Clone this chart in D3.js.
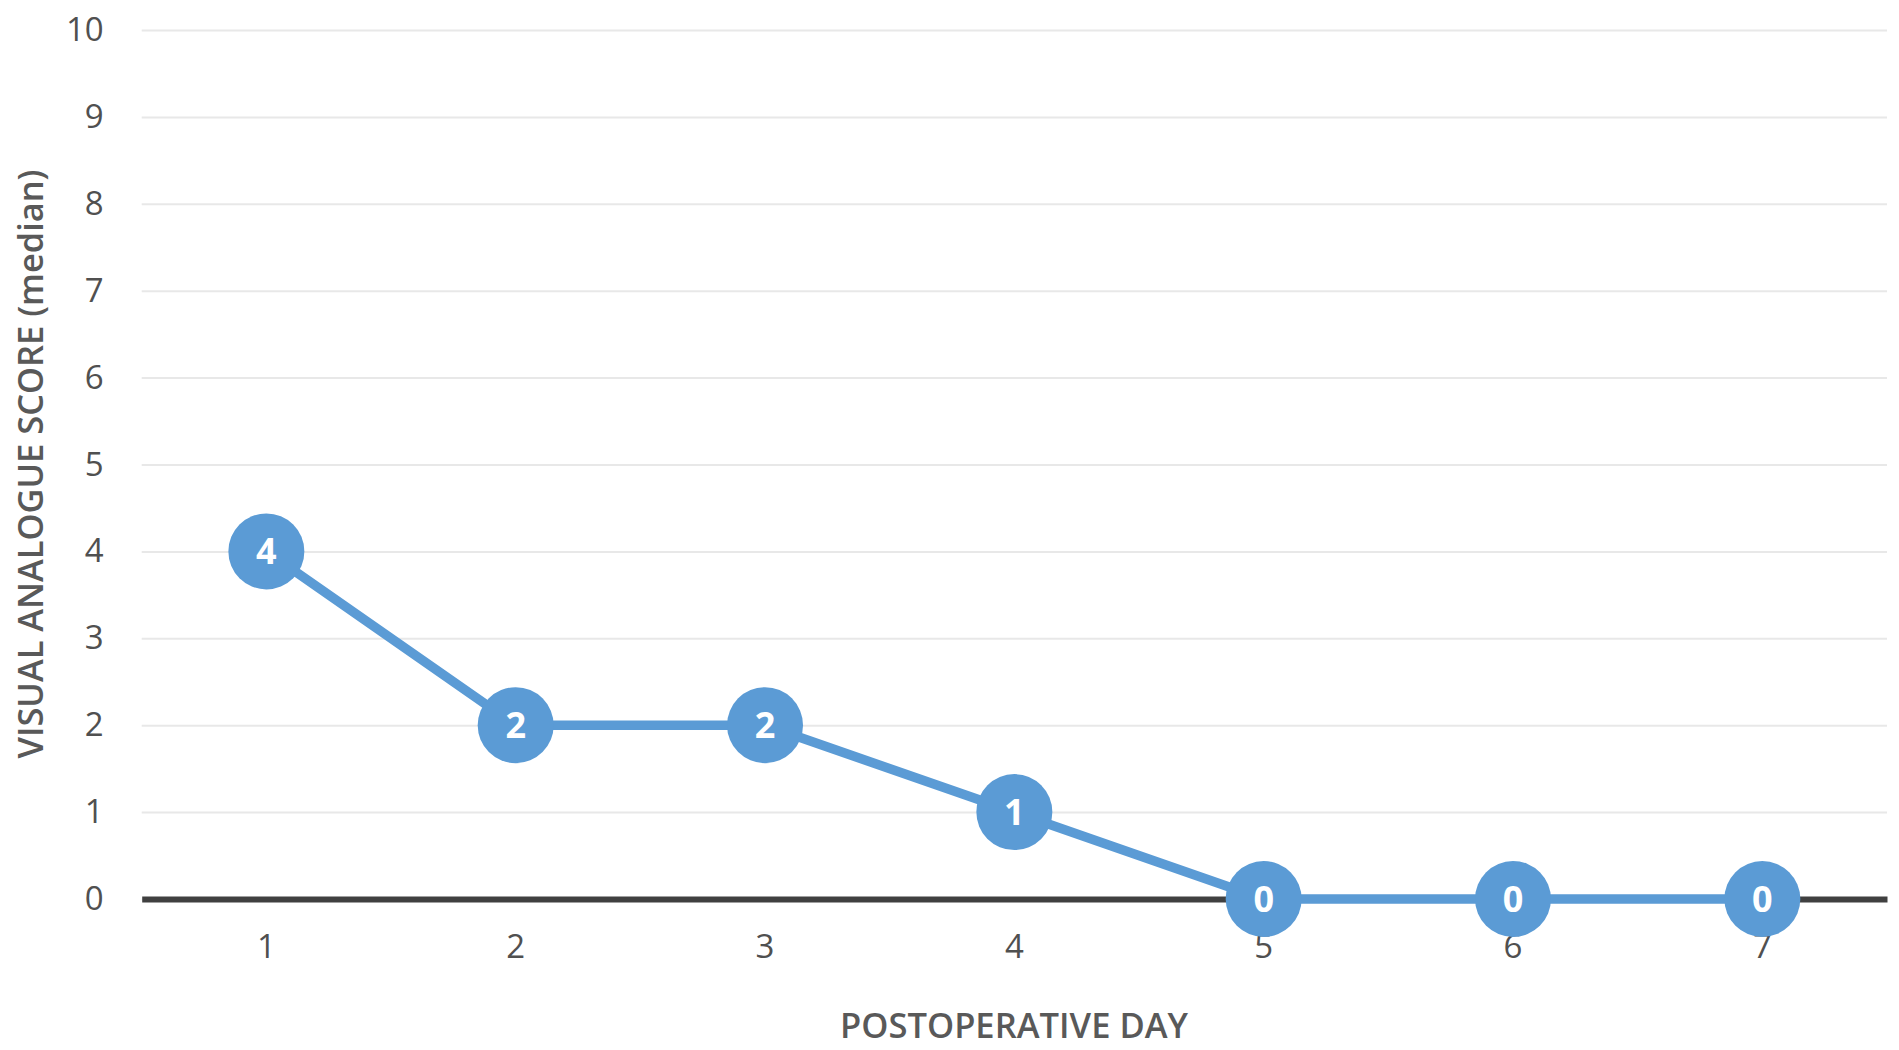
<!DOCTYPE html>
<html><head><meta charset="utf-8">
<script src="https://cdn.jsdelivr.net/npm/d3@7/dist/d3.min.js"></script>
<style>html,body{margin:0;padding:0;background:#fff;}</style>
</head><body>
<svg id="chart" width="1899" height="1050"></svg>
<script>
const days = ["1","2","3","4","5","6","7"];
const vasMedian = [4,2,2,1,0,0,0];
const yTicks = [0,1,2,3,4,5,6,7,8,9,10];
const xTitle = "POSTOPERATIVE DAY";
const yTitle = "VISUAL ANALOGUE SCORE (median)";

const W = 1899, H = 1050;
const m = {left:141.7, right:W-1887, top:30, bottom:H-899};
const svg = d3.select("#chart");
const x = d3.scaleBand().domain(days).range([m.left, W-m.right]);
const y = d3.scaleLinear().domain([0,10]).range([H-m.bottom, m.top]);
const tickFont = "'Open Sans', sans-serif";

// gridlines
svg.append("g").call(d3.axisLeft(y).tickValues(yTicks).tickSize(-(W-m.left-m.right)).tickFormat(""))
  .attr("transform",`translate(${m.left},0)`)
  .call(g=>g.select(".domain").remove())
  .call(g=>g.selectAll("line").attr("stroke","#e8e8e8").attr("stroke-width",2));

// y tick labels
svg.append("g").attr("transform",`translate(${m.left},0)`)
  .call(d3.axisLeft(y).tickValues(yTicks).tickSize(0).tickPadding(38))
  .call(g=>g.select(".domain").remove())
  .call(g=>g.selectAll("text").attr("font-family",tickFont).attr("font-size",33).attr("fill","#505050"));

// x axis
svg.append("g").attr("transform",`translate(0,${y(0)})`)
  .call(d3.axisBottom(x).tickSize(0).tickPadding(36))
  .call(g=>g.select(".domain").attr("stroke","#404040").attr("stroke-width",6))
  .call(g=>g.selectAll("text").attr("font-family",tickFont).attr("font-size",33).attr("fill","#505050"));

const pts = days.map((d,i)=>({d, v:vasMedian[i]}));
const cx = p => x(p.d)+x.bandwidth()/2;

svg.append("path").datum(pts)
  .attr("d", d3.line().x(cx).y(p=>y(p.v)))
  .attr("fill","none").attr("stroke","#5b9bd5").attr("stroke-width",9.5).attr("stroke-linejoin","round");

svg.append("g").selectAll("circle").data(pts).join("circle")
  .attr("cx",cx).attr("cy",p=>y(p.v)).attr("r",38).attr("fill","#5b9bd5");

svg.append("g").selectAll("text").data(pts).join("text")
  .attr("x",cx).attr("y",p=>y(p.v)).attr("dy","0.36em")
  .attr("text-anchor","middle").attr("font-family",tickFont).attr("font-weight",700)
  .attr("font-size",36).attr("fill","#fff").text(p=>p.v);

// axis titles
svg.append("text").attr("x",1014).attr("y",1038).attr("text-anchor","middle")
  .attr("font-family",tickFont).attr("font-weight",600).attr("font-size",34)
  .attr("textLength",348).attr("lengthAdjust","spacingAndGlyphs")
  .attr("fill","#595959").text(xTitle);

svg.append("text").attr("transform","translate(43,464) rotate(-90)").attr("text-anchor","middle")
  .attr("font-family",tickFont).attr("font-weight",600).attr("font-size",34)
  .attr("textLength",589).attr("lengthAdjust","spacingAndGlyphs")
  .attr("fill","#595959").text(yTitle);
</script>
</body></html>
